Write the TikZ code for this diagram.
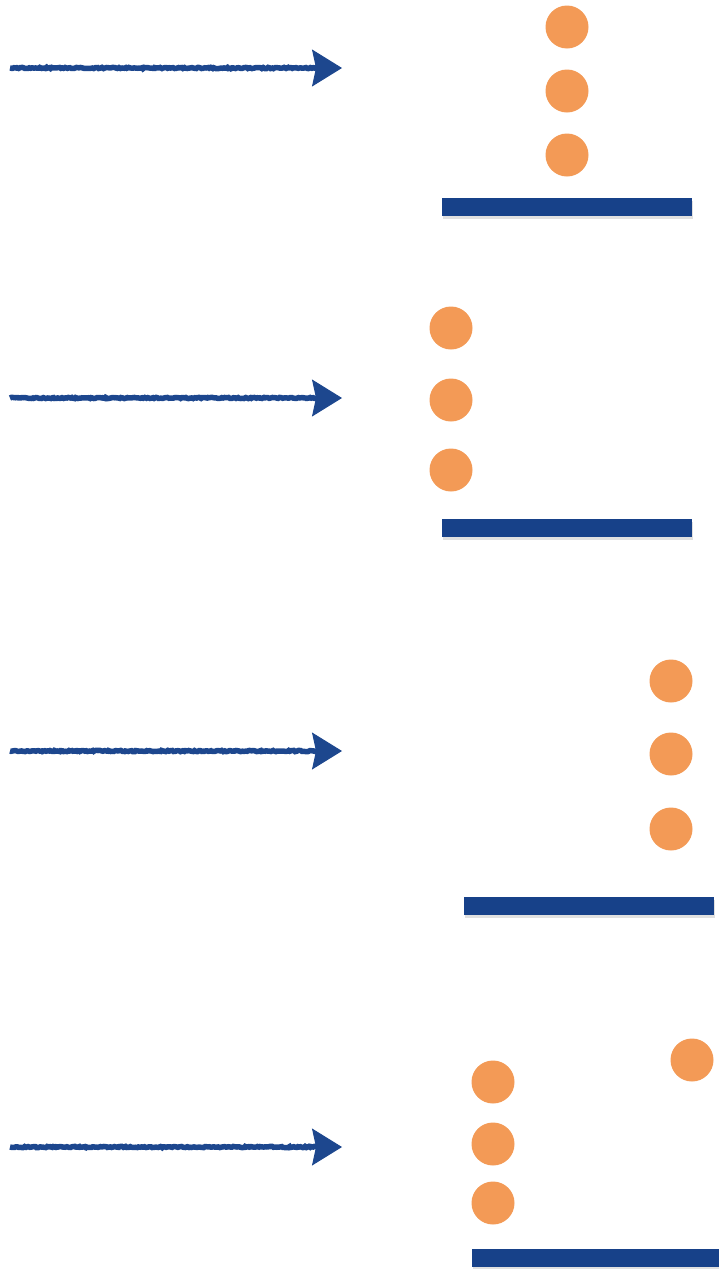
\documentclass[tikz,border=0pt]{standalone}
\usetikzlibrary{arrows.meta,decorations.pathmorphing}
\definecolor{dotorange}{HTML}{F39A56}
\definecolor{barblue}{HTML}{174189}
\definecolor{arrowblue}{HTML}{1D478E}
\begin{document}
\begin{tikzpicture}[x=1pt,y=-1pt,
  dot/.style={circle,fill=dotorange,inner sep=0pt,minimum size=43pt},
  barbox/.style={rectangle,fill=barblue,inner sep=0pt,minimum width=250pt,minimum height=18pt},
  shadowbox/.style={rectangle,fill=black,opacity=0.12,inner sep=0pt,minimum width=250pt,minimum height=18pt},
  shaft/.style={draw=arrowblue,line width=5.5pt,decorate,
    decoration={random steps,segment length=1.5pt,amplitude=0.6pt}},
  head/.style={draw=arrowblue,line width=1pt,-{Stealth[length=30pt,width=37pt,inset=4pt,fill=arrowblue]}}
]
\useasboundingbox (0,0) rectangle (718,1272);
% ---------- panel 1
\coordinate (s1) at (10,68);
\coordinate (m1) at (318,68);
\coordinate (e1) at (342,68);
\draw[shaft] (s1) -- (m1);
\draw[head] (m1) -- (e1);
\node[dot] (c11) at (567,27) {};
\node[dot] (c12) at (567,91) {};
\node[dot] (c13) at (567,155) {};
\node[shadowbox] at (568,209.5) {};
\node[barbox] (b1) at (567,207) {};
% ---------- panel 2
\coordinate (s2) at (10,398);
\coordinate (m2) at (318,398);
\coordinate (e2) at (342,398);
\draw[shaft] (s2) -- (m2);
\draw[head] (m2) -- (e2);
\node[dot] (c21) at (451,328) {};
\node[dot] (c22) at (451,400) {};
\node[dot] (c23) at (451,470) {};
\node[shadowbox] at (568,530.5) {};
\node[barbox] (b2) at (567,528) {};
% ---------- panel 3
\coordinate (s3) at (10,751);
\coordinate (m3) at (318,751);
\coordinate (e3) at (342,751);
\draw[shaft] (s3) -- (m3);
\draw[head] (m3) -- (e3);
\node[dot] (c31) at (671,681) {};
\node[dot] (c32) at (671,754) {};
\node[dot] (c33) at (671,829) {};
\node[shadowbox] at (590,908.5) {};
\node[barbox] (b3) at (589,906) {};
% ---------- panel 4
\coordinate (s4) at (10,1147);
\coordinate (m4) at (318,1147);
\coordinate (e4) at (342,1147);
\draw[shaft] (s4) -- (m4);
\draw[head] (m4) -- (e4);
\node[dot] (c41) at (493,1082) {};
\node[dot] (c42) at (493,1144) {};
\node[dot] (c43) at (493,1203) {};
\node[dot] (c44) at (692,1060) {};
\node[shadowbox] at (598,1260) {};
\node[barbox] (b4) at (597,1257.5) {};
\end{tikzpicture}
\end{document}
